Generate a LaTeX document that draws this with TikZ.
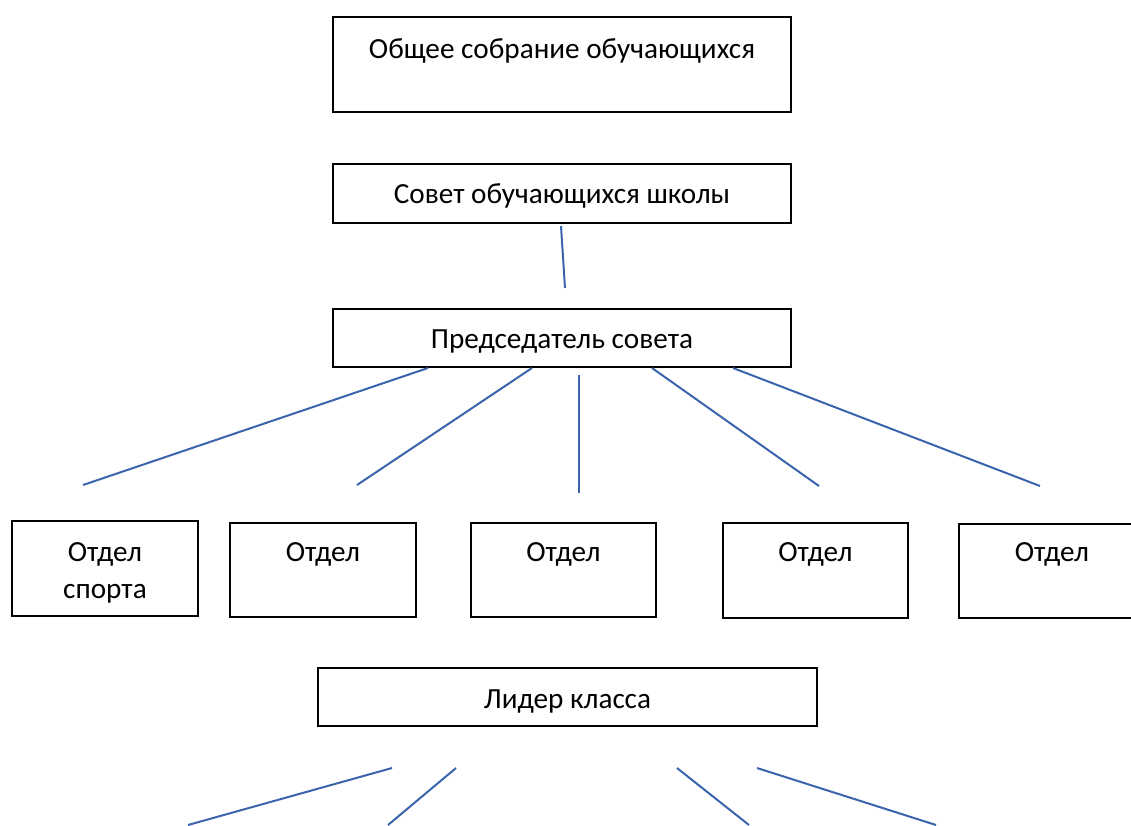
\documentclass[tikz,border=0pt]{standalone}
\usepackage{fontspec}
\setmainfont{Carlito}
\begin{document}
\begin{tikzpicture}[x=1pt,y=-1pt,
  box/.style={draw=black,line width=2pt,fill=white,anchor=north west,inner sep=0pt},
  lbl/.style={anchor=base,inner sep=0pt,font=\fontsize{29.2}{37}\selectfont},
  conn/.style={draw={rgb,255:red,58;green,100;blue,172},line width=2pt}]
\useasboundingbox (0,0) rectangle (1131,825);
\clip (0,0) rectangle (1131,825);
% boxes
\node[box,minimum width=458pt,minimum height=95pt] (gen) at (332,16) {};
\node[box,minimum width=458pt,minimum height=59pt] (council) at (332,163) {};
\node[box,minimum width=458pt,minimum height=58pt] (chair) at (332,308) {};
\node[box,minimum width=186pt,minimum height=95pt] (da) at (11,520) {};
\node[box,minimum width=186pt,minimum height=94pt] (db) at (229,522) {};
\node[box,minimum width=185pt,minimum height=94pt] (dc) at (470,522) {};
\node[box,minimum width=185pt,minimum height=95pt] (dd) at (722,522) {};
\node[box,minimum width=186pt,minimum height=94pt] (de) at (958,523) {};
\node[box,minimum width=499pt,minimum height=58pt] (leader) at (317,667) {};
% texts
\node[lbl] (genT) at (gen.north |- 0,58) {Общее собрание обучающихся};
\node[lbl] (councilT) at (council.north |- 0,203) {Совет обучающихся школы};
\node[lbl] (chairT) at (chair.north |- 0,348) {Председатель совета};
\node[lbl] (daT1) at (da.north |- 0,561) {Отдел};
\node[lbl] (daT2) at (da.north |- 0,598) {спорта};
\node[lbl] (dbT) at (db.north |- 0,561) {Отдел};
\node[lbl] (dcT) at (dc.north |- 0,561) {Отдел};
\node[lbl] (ddT) at (dd.north |- 0,561) {Отдел};
\node[lbl] (deT) at (de.north |- 0,561) {Отдел};
\node[lbl] (leaderT) at (leader.north |- 0,708) {Лидер класса};
% connector end points
\coordinate (k1) at (561,226); \coordinate (k2) at (565,288);
\coordinate (s1) at (428,368); \coordinate (e1) at (83,485);
\coordinate (s2) at (532,368); \coordinate (e2) at (357,485);
\coordinate (s3) at (579,375); \coordinate (e3) at (579,493);
\coordinate (s4) at (652,368); \coordinate (e4) at (819,486);
\coordinate (s5) at (733,368); \coordinate (e5) at (1040,486);
\coordinate (l1) at (392,768); \coordinate (m1) at (188,825);
\coordinate (l2) at (456,768); \coordinate (m2) at (388,825);
\coordinate (l3) at (677,768); \coordinate (m3) at (749,825);
\coordinate (l4) at (757,768); \coordinate (m4) at (936,825);
% connectors
\draw[conn] (k1) -- (k2);
\draw[conn] (s1) -- (e1);
\draw[conn] (s2) -- (e2);
\draw[conn] (s3) -- (e3);
\draw[conn] (s4) -- (e4);
\draw[conn] (s5) -- (e5);
\draw[conn] (l1) -- (m1);
\draw[conn] (l2) -- (m2);
\draw[conn] (l3) -- (m3);
\draw[conn] (l4) -- (m4);
\end{tikzpicture}
\end{document}
